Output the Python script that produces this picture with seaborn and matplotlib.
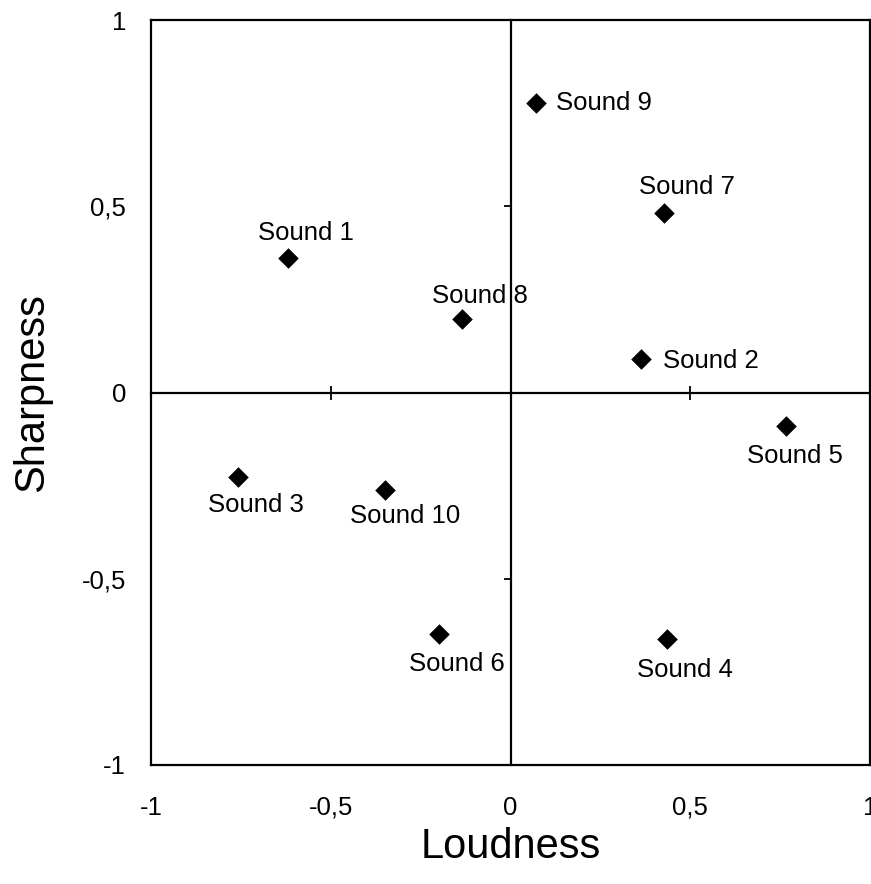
import matplotlib
matplotlib.use("Agg")
import matplotlib.pyplot as plt
import seaborn as sns
import pandas as pd
from matplotlib.ticker import FuncFormatter

# du lieu doc tu hinh
sounds = ["Sound 1", "Sound 2", "Sound 3", "Sound 4", "Sound 5",
          "Sound 6", "Sound 7", "Sound 8", "Sound 9", "Sound 10"]
loudness = [-0.62, 0.364, -0.757, 0.434, 0.765, -0.20, 0.428, -0.136, 0.07, -0.348]
sharpness = [0.36, 0.089, -0.228, -0.663, -0.091, -0.647, 0.483, 0.196, 0.776, -0.263]
ticks = [-1, -0.5, 0, 0.5, 1]

df = pd.DataFrame({"Loudness": loudness, "Sharpness": sharpness, "name": sounds})

# vi tri nhan (pixel) so voi diem
label_offsets = {
    "Sound 1": (18, 25, "center"), "Sound 2": (22, -2, "left"),
    "Sound 3": (18, -28, "center"), "Sound 4": (18, -31, "center"),
    "Sound 5": (9, -30, "center"), "Sound 6": (18, -30, "center"),
    "Sound 7": (23, 26, "center"), "Sound 8": (18, 23, "center"),
    "Sound 9": (20, 0, "left"), "Sound 10": (20, -26, "center"),
}

sns.set_style("white")
plt.rcParams["font.family"] = ["Liberation Sans", "DejaVu Sans"]
plt.rcParams["text.color"] = "black"
plt.rcParams["axes.labelcolor"] = "black"
plt.rcParams["xtick.color"] = "black"
plt.rcParams["ytick.color"] = "black"

fig = plt.figure(figsize=(8.71, 8.84), dpi=100)
rect = [151 / 871, 1 - 765 / 884, 719 / 871, 745 / 884]
ax = fig.add_axes(rect)

sns.scatterplot(data=df, x="Loudness", y="Sharpness", marker="D", s=110,
                color="black", edgecolor="black", linewidth=0, ax=ax, zorder=3)

for _, r in df.iterrows():
    dx, dy, ha = label_offsets[r["name"]]
    ax.annotate(r["name"], (r["Loudness"], r["Sharpness"]), xytext=(dx, dy),
                textcoords="offset pixels", ha=ha, va="center", fontsize=18.5)

ax.set_xlim(-1, 1)
ax.set_ylim(-1, 1)
ax.set_xticks(ticks)
ax.set_yticks(ticks)
fmt = FuncFormatter(lambda v, p: ("%g" % v).replace(".", ","))
ax.xaxis.set_major_formatter(fmt)
ax.yaxis.set_major_formatter(fmt)
ax.tick_params(axis="both", length=0, labelsize=18.5)
ax.tick_params(axis="x", pad=22)
ax.tick_params(axis="y", pad=18)
for sp in ax.spines.values():
    sp.set_visible(True)
    sp.set_color("black")
    sp.set_linewidth(1.6)
ax.set_xlabel("Loudness", fontsize=30, labelpad=5)
ax.set_ylabel("Sharpness", fontsize=30, labelpad=21)

# truc qua goc toa do
ax2 = fig.add_axes(rect)
ax2.patch.set_visible(False)
ax2.set_xlim(-1, 1)
ax2.set_ylim(-1, 1)
for s in ["top", "right"]:
    ax2.spines[s].set_visible(False)
for s in ["left", "bottom"]:
    ax2.spines[s].set_visible(True)
    ax2.spines[s].set_position("zero")
    ax2.spines[s].set_color("black")
    ax2.spines[s].set_linewidth(1.6)
ax2.set_xticks([-0.5, 0.5])
ax2.set_yticks([-0.5, 0.5])
ax2.tick_params(axis="x", direction="inout", length=10, width=1.3,
                bottom=True, labelbottom=False)
ax2.tick_params(axis="y", direction="out", length=5, width=1.3,
                left=True, labelleft=False)

fig.savefig("out.png", dpi=100)
